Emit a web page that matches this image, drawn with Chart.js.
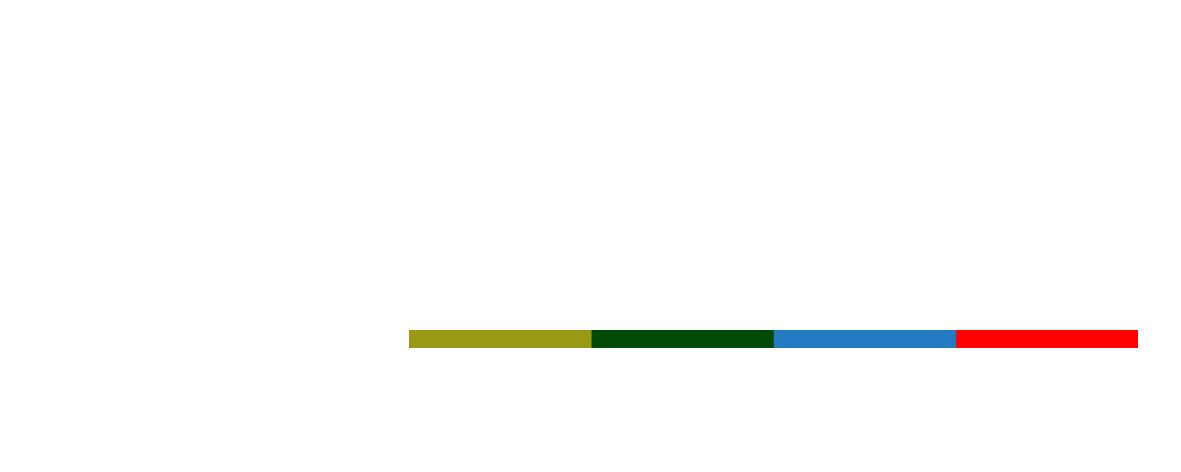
<!DOCTYPE html>
<html>
<head>
<meta charset="utf-8">
<script src="https://cdn.jsdelivr.net/npm/chart.js@4/dist/chart.umd.min.js"></script>
<style>
  html, body { margin: 0; padding: 0; background: #ffffff; }
  #wrap { width: 1181px; height: 472px; position: relative; }
</style>
</head>
<body>
<div id="wrap"><canvas id="c"></canvas></div>
<script>
const categories = [""];
const seriesNames = ["A", "B", "C", "D"];
const seriesValues = [[1], [1], [1], [1]];
const seriesColors = ["#999914", "#004a07", "#237bc1", "#ff0000"];

const datasets = seriesNames.map((name, i) => ({
  label: name,
  data: seriesValues[i],
  backgroundColor: seriesColors[i],
  borderWidth: 0,
  barPercentage: 1,
  categoryPercentage: 1
}));

new Chart(document.getElementById("c"), {
  type: "bar",
  data: { labels: categories, datasets },
  options: {
    indexAxis: "y",
    responsive: true,
    maintainAspectRatio: false,
    animation: false,
    layout: { padding: { left: 409, right: 43, top: 330, bottom: 124 } },
    plugins: { legend: { display: false }, tooltip: { enabled: false } },
    scales: {
      x: { stacked: true, display: false, min: 0, max: 4 },
      y: { stacked: true, display: false }
    }
  }
});
</script>
</body>
</html>
